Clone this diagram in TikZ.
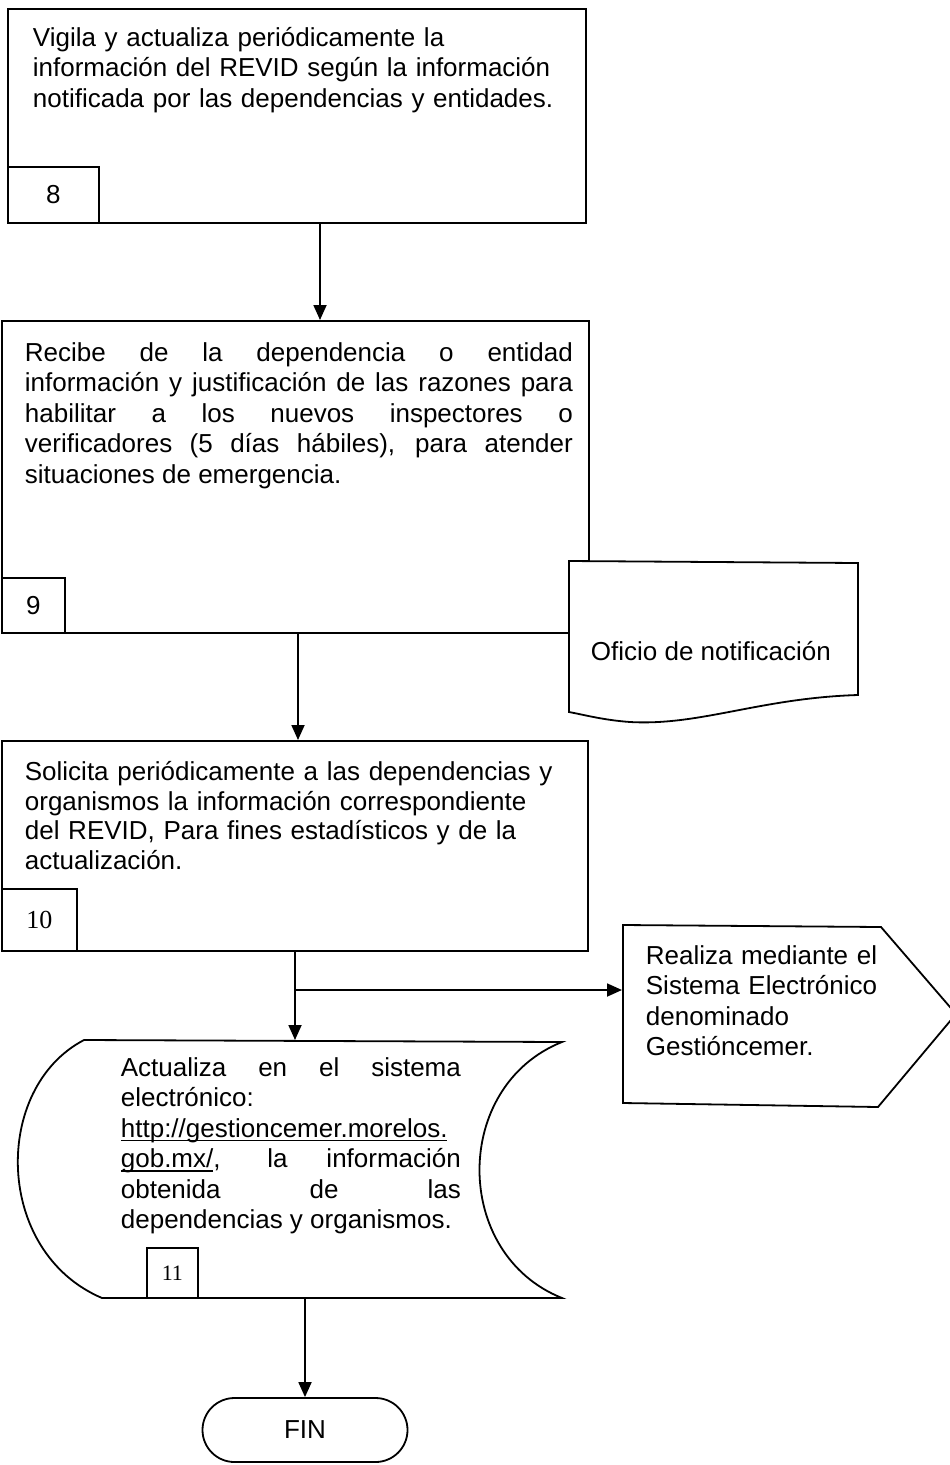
\documentclass[tikz,border=0pt]{standalone}
\usepackage{fontspec}
\setmainfont{Liberation Sans}
\newfontfamily\numserif{Liberation Serif}
\newcommand\myul[1]{\setbox0\hbox{#1}\rlap{\rule[-4pt]{\wd0}{1.3pt}}\box0}
\usetikzlibrary{arrows.meta,calc}
\begin{document}
\begin{tikzpicture}[x=1pt,y=-1pt, line width=1.8pt,
  box/.style={draw, anchor=north west, inner sep=0pt, fill=white},
  txt/.style={anchor=north west, inner sep=0pt, font=\fontsize{26}{30.5}\selectfont},
  numtxt/.style={font=\fontsize{26}{30}\selectfont},
  arr/.style={-{Triangle[length=15pt,width=13pt]}},
]
\useasboundingbox (0,0) rectangle (950,1465);

% ---- step 8
\node[box, minimum width=578pt, minimum height=214pt] (b8) at (7,8) {};
\node[box, minimum width=91pt, minimum height=56pt, numtxt] (n8) at (7,166) {8};
\node[txt, text width=545pt, align=left] (t8) at (32,24)
 {\strut Vigila y actualiza periódicamente la\\
  información del REVID según la información\\
  notificada por las dependencias y entidades.};

% ---- step 9
\node[box, minimum width=587pt, minimum height=312pt] (b9) at (1,320) {};
\node[box, minimum width=63pt, minimum height=55pt, numtxt] (n9) at (1,577) {9};
\node[txt, text width=548pt, align=justify] (t9) at (24,339)
 {\tolerance=10000\strut Recibe de la dependencia o entidad\linebreak
  información y justificación de las razones para\linebreak
  habilitar a los nuevos inspectores o\linebreak
  verificadores (5 días hábiles), para atender\linebreak
  situaciones de emergencia.};

% ---- document
\coordinate (d1) at (569,561);
\coordinate (d2) at (858,563);
\coordinate (d3) at (858,695);
\coordinate (d4) at (569,712);
\draw[fill=white] (d1) -- (d2) -- (d3)
  .. controls (760,698) and (700,726) .. (630,722)
  .. controls (603,720) and (585,715) .. (d4) -- cycle;
\node[anchor=base west, inner sep=0pt, font=\fontsize{26}{30.5}\selectfont] (doc) at (590,660) {Oficio de notificación};

% ---- step 10
\node[box, minimum width=586pt, minimum height=210pt] (b10) at (1,740) {};
\node[box, minimum width=75pt, minimum height=62pt, font=\fontsize{26}{30}\numserif] (n10) at (1,888) {10};
\node[txt, text width=560pt, align=left, font=\fontsize{26}{29.5}\selectfont] (t10) at (24,759)
 {\strut Solicita periódicamente a las dependencias y\\
  organismos la información correspondiente\\
  del REVID, Para fines estadísticos y de la\\
  actualización.};

% ---- off-page connector (Gestióncemer)
\coordinate (g1) at (623,925);
\coordinate (g2) at (881,927);
\coordinate (g3) at (956,1014);
\coordinate (g4) at (878,1107);
\coordinate (g5) at (623,1103);
\draw[fill=white] (g1) -- (g2) -- (g3) -- (g4) -- (g5) -- cycle;
\node[txt, text width=260pt, align=left] (tg) at (645,942)
 {\strut Realiza mediante el\\
  Sistema Electrónico\\
  denominado\\
  Gestióncemer.};

% ---- step 11 (stored data shape)
\coordinate (s1) at (84,1040);
\coordinate (s2) at (562,1042);
\coordinate (s3) at (562,1298);
\coordinate (s4) at (102,1298);
\draw[fill=white] (s1) -- (s2)
  .. controls (452,1086) and (452,1254) .. (s3) -- (s4)
  .. controls (-6,1252) and (-8,1088) .. (s1) -- cycle;
\node[box, minimum width=51pt, minimum height=50pt, font=\fontsize{22}{26}\numserif] (n11) at (146,1247) {11};
\node[txt, text width=340pt, align=justify] (t11) at (120,1054)
 {\tolerance=10000\strut Actualiza en el sistema\linebreak
  electrónico:\\
  \myul{http://gestioncemer.morelos.}\\
  \myul{gob.mx/}, la información\linebreak
  obtenida de las\linebreak
  dependencias y organismos.};

% ---- FIN
\node[draw, rounded corners=32pt, minimum width=205pt, minimum height=64pt, inner sep=0pt,
      font=\fontsize{26}{30}\selectfont] (fin) at (305,1430) {FIN};

% ---- connectors
\coordinate (a1) at (320,0);
\coordinate (a2) at (298,0);
\coordinate (a3) at (295,1040);
\coordinate (split) at (295,990);
\coordinate (gin) at (622,990);
\coordinate (a4) at (305,1298);
\draw[arr] (b8.south -| a1) -- (b9.north -| a1);
\draw[arr] (b9.south -| a2) -- (b10.north -| a2);
\draw[arr] (b10.south -| a3) -- (a3);
\draw[arr] (split) -- (gin);
\draw[arr] (a4) -- (fin.north);
\end{tikzpicture}
\end{document}
